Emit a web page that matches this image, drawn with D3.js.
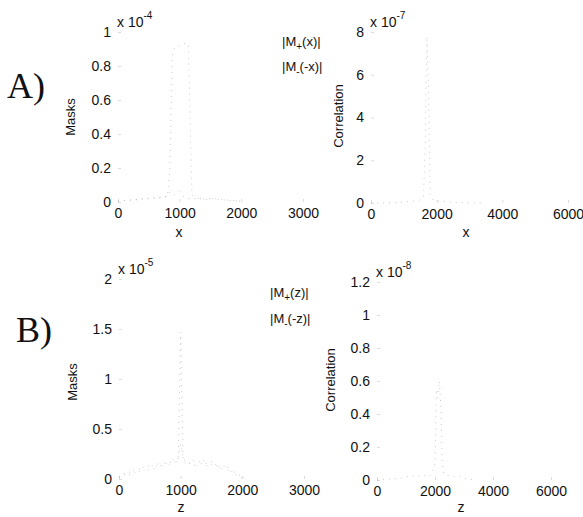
<!DOCTYPE html>
<html lang="en">
<meta charset="utf-8">
<style>
body { margin: 0; background: #fff; }
text { font-family: "Liberation Sans", Arial, sans-serif; fill: #111; }
.tick line { stroke: #dcdcdc; }
.domain { display: none; }
.trace { fill: none; stroke: #a8a8a8; stroke-width: 0.6; stroke-dasharray: 1 5; }
</style>
<body>
<script src="https://d3js.org/d3.v7.min.js"></script>
<script>
// tick labels
var maskXTicks = [0, 1000, 2000, 3000];
var corrXTicks = [0, 2000, 4000, 6000];
var maskYTicksA = [0, 0.2, 0.4, 0.6, 0.8, 1];
var corrYTicksA = [0, 2, 4, 6, 8];
var maskYTicksB = [0, 0.5, 1, 1.5, 2];
var corrYTicksB = [0, 0.2, 0.4, 0.6, 0.8, 1, 1.2];

// A) masks along x (units 1e-4)
var posA = [0, 80, 160, 240, 320, 400, 480, 560, 640, 720, 800, 840, 880, 920, 1000, 1060, 1140, 1200, 1280, 1360, 1440, 1520, 1600, 1680, 1760, 1840, 1920, 2000];
var mPlusX = [0.005, 0.008, 0.01, 0.012, 0.015, 0.02, 0.018, 0.025, 0.02, 0.03, 0.03, 0.19, 0.86, 0.91, 0.92, 0.93, 0.93, 0.04, 0.025, 0.015, 0.02, 0.018, 0.022, 0.015, 0.012, 0.01, 0.008, 0.004];
var mMinusX = [0.004, 0.01, 0.008, 0.015, 0.012, 0.018, 0.022, 0.02, 0.028, 0.025, 0.035, 0.06, 0.05, 0.04, 0.08, 0.03, 0.02, 0.022, 0.018, 0.02, 0.015, 0.02, 0.012, 0.016, 0.01, 0.008, 0.006, 0.003];

// A) correlation along x (units 1e-7)
var posCA = [0, 400, 800, 1000, 1200, 1400, 1500, 1600, 1650, 1700, 1750, 1800, 1900, 2000, 2200, 2400, 2600, 2800, 3000, 3200, 3400];
var corrX = [0, 0.01, 0.02, 0.05, 0.08, 0.1, 0.15, 0.3, 2.6, 7.8, 5.8, 0.4, 0.12, 0.1, 0.08, 0.05, 0.03, 0.02, 0.01, 0.005, 0];

// B) masks along z (units 1e-5)
var posB = [0, 80, 160, 240, 320, 400, 480, 560, 640, 720, 800, 880, 960, 1000, 1040, 1120, 1200, 1280, 1360, 1440, 1520, 1600, 1680, 1760, 1840, 1920, 2000];
var mPlusZ = [0.02, 0.06, 0.04, 0.09, 0.07, 0.12, 0.09, 0.15, 0.11, 0.17, 0.13, 0.2, 0.16, 1.47, 0.18, 0.14, 0.19, 0.12, 0.17, 0.15, 0.18, 0.11, 0.14, 0.09, 0.08, 0.05, 0.02];
var mMinusZ = [0.01, 0.04, 0.07, 0.05, 0.1, 0.08, 0.13, 0.1, 0.16, 0.12, 0.18, 0.15, 0.22, 0.35, 0.2, 0.17, 0.13, 0.16, 0.2, 0.12, 0.15, 0.13, 0.1, 0.12, 0.06, 0.04, 0.01];

// B) correlation along z (units 1e-8)
var posCB = [0, 400, 800, 1000, 1200, 1400, 1600, 1800, 1900, 2000, 2050, 2100, 2150, 2200, 2250, 2300, 2400, 2600, 2800, 3000, 3200, 3400];
var corrZ = [0, 0.005, 0.01, 0.02, 0.025, 0.02, 0.03, 0.02, 0.04, 0.1, 0.55, 0.5, 0.6, 0.45, 0.1, 0.04, 0.03, 0.02, 0.025, 0.01, 0.005, 0];

var font = "'Liberation Sans', Arial, sans-serif";

var svg = d3.select("body").append("svg")
    .attr("width", 583)
    .attr("height", 517);

function panel(o) {
  var x = d3.scaleLinear().domain(o.xd).range(o.xr);
  var y = d3.scaleLinear().domain(o.yd).range(o.yr);
  var g = svg.append("g");

  g.append("g")
      .attr("transform", "translate(0," + o.yr[0] + ")")
      .attr("font-family", font)
      .call(d3.axisBottom(x).tickValues(o.xt).tickSize(-3).tickPadding(6).tickFormat(d3.format("d")))
      .selectAll("text").style("font-size", "14px");

  g.append("g")
      .attr("transform", "translate(" + o.xr[0] + ",0)")
      .attr("font-family", font)
      .call(d3.axisLeft(y).tickValues(o.yt).tickSize(-3).tickPadding(7).tickFormat(function(d) { return String(d); }))
      .selectAll("text").style("font-size", "14px");

  g.selectAll("g.tick text").attr("fill", "#111");

  o.series.forEach(function(s) {
    g.append("path")
        .attr("class", "trace")
        .attr("d", d3.line()
          .x(function(d, i) { return x(o.pos[i]); })
          .y(function(d) { return y(d); })(s));
  });

  // exponent
  var ex = g.append("text")
      .attr("x", o.xr[0] - 1)
      .attr("y", o.yr[1] - 5)
      .style("font-size", "14px")
      .text("x 10");
  ex.append("tspan")
      .attr("dy", -8)
      .style("font-size", "10px")
      .text(o.exp);

  g.append("text")
      .attr("transform", "translate(" + o.ylab[0] + "," + o.ylab[1] + ") rotate(-90)")
      .attr("text-anchor", "middle")
      .attr("dy", "0.35em")
      .style("font-size", "13px")
      .text(o.ytitle);

  g.append("text")
      .attr("x", o.xlab[0])
      .attr("y", o.xlab[1])
      .attr("text-anchor", "middle")
      .attr("dy", "0.35em")
      .style("font-size", "14px")
      .text(o.xtitle);
}

panel({xd: [0, 3000], xr: [118, 303], yd: [0, 1], yr: [202, 32], xt: maskXTicks, yt: maskYTicksA,
  pos: posA, series: [mPlusX, mMinusX], exp: "-4", ytitle: "Masks", ylab: [70, 117], xtitle: "x", xlab: [179, 232]});
panel({xd: [0, 6000], xr: [371, 568], yd: [0, 8], yr: [203, 32], xt: corrXTicks, yt: corrYTicksA,
  pos: posCA, series: [corrX], exp: "-7", ytitle: "Correlation", ylab: [338, 116], xtitle: "x", xlab: [466, 232]});
panel({xd: [0, 3000], xr: [119, 304], yd: [0, 2], yr: [479, 279], xt: maskXTicks, yt: maskYTicksB,
  pos: posB, series: [mPlusZ, mMinusZ], exp: "-5", ytitle: "Masks", ylab: [72, 382], xtitle: "z", xlab: [181, 507]});
panel({xd: [0, 6000], xr: [377, 551], yd: [0, 1.2], yr: [480, 282], xt: corrXTicks, yt: corrYTicksB,
  pos: posCB, series: [corrZ], exp: "-8", ytitle: "Correlation", ylab: [330, 380], xtitle: "z", xlab: [461, 507]});

// legend texts
function legendLine(x, y, sub, arg) {
  var t = svg.append("text").attr("x", x).attr("y", y).style("font-size", "13px");
  t.append("tspan").text("|M");
  t.append("tspan").attr("dy", 4).style("font-size", "10px").text(sub);
  t.append("tspan").attr("dy", -4).text(arg + "|");
}
legendLine(282, 46, "+", "(x)");
legendLine(282, 71, "-", "(-x)");
legendLine(270, 297, "+", "(z)");
legendLine(270, 323, "-", "(-z)");

// panel letters
svg.append("text").attr("x", 7).attr("y", 98)
    .style("font-family", "'Liberation Serif', 'Times New Roman', serif")
    .style("font-size", "36px").text("A)");
svg.append("text").attr("x", 16).attr("y", 342)
    .style("font-family", "'Liberation Serif', 'Times New Roman', serif")
    .style("font-size", "36px").text("B)");
</script>
</body>
</html>
